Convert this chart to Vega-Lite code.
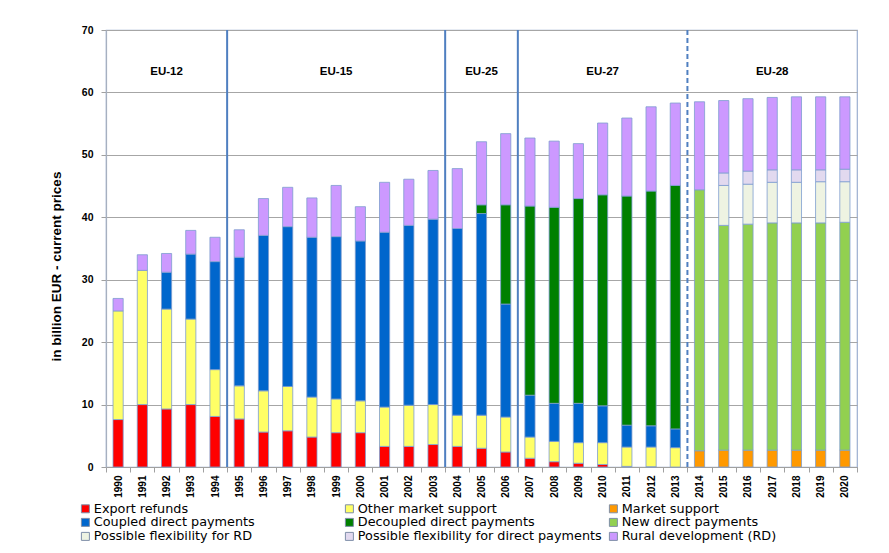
{
  "$schema": "https://vega.github.io/schema/vega-lite/v6.json",
  "autosize": "none",
  "width": 751,
  "height": 437,
  "padding": {"left": 106, "top": 30, "right": 32, "bottom": 86},
  "background": "white",
  "config": {
    "view": {"stroke": "#9CAFD0", "strokeWidth": 1.2},
    "font": "Liberation Sans"
  },
  "datasets": {
    "bars": [
      {"year": "1990", "cat": "Export refunds", "k": 1, "v": 7.6},
      {"year": "1990", "cat": "Other market support", "k": 2, "v": 17.4},
      {"year": "1990", "cat": "Rural development (RD)", "k": 9, "v": 2.0},
      {"year": "1991", "cat": "Export refunds", "k": 1, "v": 10.0},
      {"year": "1991", "cat": "Other market support", "k": 2, "v": 21.5},
      {"year": "1991", "cat": "Rural development (RD)", "k": 9, "v": 2.5},
      {"year": "1992", "cat": "Export refunds", "k": 1, "v": 9.3},
      {"year": "1992", "cat": "Other market support", "k": 2, "v": 16.0},
      {"year": "1992", "cat": "Coupled direct payments", "k": 4, "v": 5.9},
      {"year": "1992", "cat": "Rural development (RD)", "k": 9, "v": 3.0},
      {"year": "1993", "cat": "Export refunds", "k": 1, "v": 10.0},
      {"year": "1993", "cat": "Other market support", "k": 2, "v": 13.7},
      {"year": "1993", "cat": "Coupled direct payments", "k": 4, "v": 10.4},
      {"year": "1993", "cat": "Rural development (RD)", "k": 9, "v": 3.8},
      {"year": "1994", "cat": "Export refunds", "k": 1, "v": 8.1},
      {"year": "1994", "cat": "Other market support", "k": 2, "v": 7.5},
      {"year": "1994", "cat": "Coupled direct payments", "k": 4, "v": 17.3},
      {"year": "1994", "cat": "Rural development (RD)", "k": 9, "v": 3.9},
      {"year": "1995", "cat": "Export refunds", "k": 1, "v": 7.7},
      {"year": "1995", "cat": "Other market support", "k": 2, "v": 5.3},
      {"year": "1995", "cat": "Coupled direct payments", "k": 4, "v": 20.6},
      {"year": "1995", "cat": "Rural development (RD)", "k": 9, "v": 4.4},
      {"year": "1996", "cat": "Export refunds", "k": 1, "v": 5.6},
      {"year": "1996", "cat": "Other market support", "k": 2, "v": 6.6},
      {"year": "1996", "cat": "Coupled direct payments", "k": 4, "v": 24.9},
      {"year": "1996", "cat": "Rural development (RD)", "k": 9, "v": 5.9},
      {"year": "1997", "cat": "Export refunds", "k": 1, "v": 5.8},
      {"year": "1997", "cat": "Other market support", "k": 2, "v": 7.1},
      {"year": "1997", "cat": "Coupled direct payments", "k": 4, "v": 25.6},
      {"year": "1997", "cat": "Rural development (RD)", "k": 9, "v": 6.3},
      {"year": "1998", "cat": "Export refunds", "k": 1, "v": 4.8},
      {"year": "1998", "cat": "Other market support", "k": 2, "v": 6.4},
      {"year": "1998", "cat": "Coupled direct payments", "k": 4, "v": 25.6},
      {"year": "1998", "cat": "Rural development (RD)", "k": 9, "v": 6.3},
      {"year": "1999", "cat": "Export refunds", "k": 1, "v": 5.5},
      {"year": "1999", "cat": "Other market support", "k": 2, "v": 5.4},
      {"year": "1999", "cat": "Coupled direct payments", "k": 4, "v": 26.0},
      {"year": "1999", "cat": "Rural development (RD)", "k": 9, "v": 8.2},
      {"year": "2000", "cat": "Export refunds", "k": 1, "v": 5.5},
      {"year": "2000", "cat": "Other market support", "k": 2, "v": 5.1},
      {"year": "2000", "cat": "Coupled direct payments", "k": 4, "v": 25.6},
      {"year": "2000", "cat": "Rural development (RD)", "k": 9, "v": 5.5},
      {"year": "2001", "cat": "Export refunds", "k": 1, "v": 3.3},
      {"year": "2001", "cat": "Other market support", "k": 2, "v": 6.3},
      {"year": "2001", "cat": "Coupled direct payments", "k": 4, "v": 28.0},
      {"year": "2001", "cat": "Rural development (RD)", "k": 9, "v": 8.0},
      {"year": "2002", "cat": "Export refunds", "k": 1, "v": 3.3},
      {"year": "2002", "cat": "Other market support", "k": 2, "v": 6.6},
      {"year": "2002", "cat": "Coupled direct payments", "k": 4, "v": 28.8},
      {"year": "2002", "cat": "Rural development (RD)", "k": 9, "v": 7.4},
      {"year": "2003", "cat": "Export refunds", "k": 1, "v": 3.6},
      {"year": "2003", "cat": "Other market support", "k": 2, "v": 6.4},
      {"year": "2003", "cat": "Coupled direct payments", "k": 4, "v": 29.7},
      {"year": "2003", "cat": "Rural development (RD)", "k": 9, "v": 7.8},
      {"year": "2004", "cat": "Export refunds", "k": 1, "v": 3.3},
      {"year": "2004", "cat": "Other market support", "k": 2, "v": 5.0},
      {"year": "2004", "cat": "Coupled direct payments", "k": 4, "v": 29.9},
      {"year": "2004", "cat": "Rural development (RD)", "k": 9, "v": 9.6},
      {"year": "2005", "cat": "Export refunds", "k": 1, "v": 3.0},
      {"year": "2005", "cat": "Other market support", "k": 2, "v": 5.3},
      {"year": "2005", "cat": "Coupled direct payments", "k": 4, "v": 32.3},
      {"year": "2005", "cat": "Decoupled direct payments", "k": 5, "v": 1.4},
      {"year": "2005", "cat": "Rural development (RD)", "k": 9, "v": 10.1},
      {"year": "2006", "cat": "Export refunds", "k": 1, "v": 2.4},
      {"year": "2006", "cat": "Other market support", "k": 2, "v": 5.6},
      {"year": "2006", "cat": "Coupled direct payments", "k": 4, "v": 18.1},
      {"year": "2006", "cat": "Decoupled direct payments", "k": 5, "v": 15.9},
      {"year": "2006", "cat": "Rural development (RD)", "k": 9, "v": 11.4},
      {"year": "2007", "cat": "Export refunds", "k": 1, "v": 1.4},
      {"year": "2007", "cat": "Other market support", "k": 2, "v": 3.4},
      {"year": "2007", "cat": "Coupled direct payments", "k": 4, "v": 6.7},
      {"year": "2007", "cat": "Decoupled direct payments", "k": 5, "v": 30.3},
      {"year": "2007", "cat": "Rural development (RD)", "k": 9, "v": 10.9},
      {"year": "2008", "cat": "Export refunds", "k": 1, "v": 0.85},
      {"year": "2008", "cat": "Other market support", "k": 2, "v": 3.25},
      {"year": "2008", "cat": "Coupled direct payments", "k": 4, "v": 6.1},
      {"year": "2008", "cat": "Decoupled direct payments", "k": 5, "v": 31.4},
      {"year": "2008", "cat": "Rural development (RD)", "k": 9, "v": 10.6},
      {"year": "2009", "cat": "Export refunds", "k": 1, "v": 0.6},
      {"year": "2009", "cat": "Other market support", "k": 2, "v": 3.3},
      {"year": "2009", "cat": "Coupled direct payments", "k": 4, "v": 6.3},
      {"year": "2009", "cat": "Decoupled direct payments", "k": 5, "v": 32.8},
      {"year": "2009", "cat": "Rural development (RD)", "k": 9, "v": 8.8},
      {"year": "2010", "cat": "Export refunds", "k": 1, "v": 0.4},
      {"year": "2010", "cat": "Other market support", "k": 2, "v": 3.5},
      {"year": "2010", "cat": "Coupled direct payments", "k": 4, "v": 5.9},
      {"year": "2010", "cat": "Decoupled direct payments", "k": 5, "v": 33.8},
      {"year": "2010", "cat": "Rural development (RD)", "k": 9, "v": 11.5},
      {"year": "2011", "cat": "Export refunds", "k": 1, "v": 0.1},
      {"year": "2011", "cat": "Other market support", "k": 2, "v": 3.1},
      {"year": "2011", "cat": "Coupled direct payments", "k": 4, "v": 3.5},
      {"year": "2011", "cat": "Decoupled direct payments", "k": 5, "v": 36.7},
      {"year": "2011", "cat": "Rural development (RD)", "k": 9, "v": 12.5},
      {"year": "2012", "cat": "Export refunds", "k": 1, "v": 0.05},
      {"year": "2012", "cat": "Other market support", "k": 2, "v": 3.15},
      {"year": "2012", "cat": "Coupled direct payments", "k": 4, "v": 3.4},
      {"year": "2012", "cat": "Decoupled direct payments", "k": 5, "v": 37.6},
      {"year": "2012", "cat": "Rural development (RD)", "k": 9, "v": 13.5},
      {"year": "2013", "cat": "Other market support", "k": 2, "v": 3.1},
      {"year": "2013", "cat": "Coupled direct payments", "k": 4, "v": 3.0},
      {"year": "2013", "cat": "Decoupled direct payments", "k": 5, "v": 39.0},
      {"year": "2013", "cat": "Rural development (RD)", "k": 9, "v": 13.2},
      {"year": "2014", "cat": "Market support", "k": 3, "v": 2.6},
      {"year": "2014", "cat": "New direct payments", "k": 6, "v": 41.8},
      {"year": "2014", "cat": "Rural development (RD)", "k": 9, "v": 14.1},
      {"year": "2015", "cat": "Market support", "k": 3, "v": 2.7},
      {"year": "2015", "cat": "New direct payments", "k": 6, "v": 36.0},
      {"year": "2015", "cat": "Possible flexibility for RD", "k": 7, "v": 6.4},
      {"year": "2015", "cat": "Possible flexibility for direct payments", "k": 8, "v": 2.0},
      {"year": "2015", "cat": "Rural development (RD)", "k": 9, "v": 11.6},
      {"year": "2016", "cat": "Market support", "k": 3, "v": 2.7},
      {"year": "2016", "cat": "New direct payments", "k": 6, "v": 36.2},
      {"year": "2016", "cat": "Possible flexibility for RD", "k": 7, "v": 6.4},
      {"year": "2016", "cat": "Possible flexibility for direct payments", "k": 8, "v": 2.1},
      {"year": "2016", "cat": "Rural development (RD)", "k": 9, "v": 11.6},
      {"year": "2017", "cat": "Market support", "k": 3, "v": 2.7},
      {"year": "2017", "cat": "New direct payments", "k": 6, "v": 36.4},
      {"year": "2017", "cat": "Possible flexibility for RD", "k": 7, "v": 6.5},
      {"year": "2017", "cat": "Possible flexibility for direct payments", "k": 8, "v": 2.0},
      {"year": "2017", "cat": "Rural development (RD)", "k": 9, "v": 11.6},
      {"year": "2018", "cat": "Market support", "k": 3, "v": 2.7},
      {"year": "2018", "cat": "New direct payments", "k": 6, "v": 36.4},
      {"year": "2018", "cat": "Possible flexibility for RD", "k": 7, "v": 6.5},
      {"year": "2018", "cat": "Possible flexibility for direct payments", "k": 8, "v": 2.0},
      {"year": "2018", "cat": "Rural development (RD)", "k": 9, "v": 11.7},
      {"year": "2019", "cat": "Market support", "k": 3, "v": 2.7},
      {"year": "2019", "cat": "New direct payments", "k": 6, "v": 36.4},
      {"year": "2019", "cat": "Possible flexibility for RD", "k": 7, "v": 6.6},
      {"year": "2019", "cat": "Possible flexibility for direct payments", "k": 8, "v": 1.9},
      {"year": "2019", "cat": "Rural development (RD)", "k": 9, "v": 11.7},
      {"year": "2020", "cat": "Market support", "k": 3, "v": 2.7},
      {"year": "2020", "cat": "New direct payments", "k": 6, "v": 36.5},
      {"year": "2020", "cat": "Possible flexibility for RD", "k": 7, "v": 6.5},
      {"year": "2020", "cat": "Possible flexibility for direct payments", "k": 8, "v": 2.0},
      {"year": "2020", "cat": "Rural development (RD)", "k": 9, "v": 11.6}
    ]
  },
  "layer": [
    {
      "data": {"name": "bars"},
      "mark": {"type": "bar", "width": {"band": 0.42}, "stroke": "#7D9DCF", "strokeWidth": 0.8},
      "encoding": {
        "x": {
          "field": "year", "type": "ordinal",
          "scale": {"paddingInner": 0, "paddingOuter": 0},
          "axis": {
            "title": null, "labelAngle": -90, "labelFont": "Liberation Sans", "labelFontWeight": "bold",
            "labelFontSize": 10, "labelColor": "#000000", "labelPadding": 3,
            "tickBand": "extent", "tickSize": 5, "tickColor": "#A0A0A0",
            "domainColor": "#A0A0A0", "domainWidth": 1.2
          }
        },
        "y": {
          "field": "v", "type": "quantitative", "stack": "zero",
          "scale": {"domain": [0, 70], "nice": false},
          "axis": {
            "title": "in billion EUR - current prices", "titleFont": "Liberation Sans", "titleFontSize": 13.5,
            "titleFontWeight": "bold", "titleColor": "#000000", "titlePadding": 18, "titleY": 236,
            "values": [0, 10, 20, 30, 40, 50, 60, 70],
            "labelFont": "Liberation Sans", "labelFontWeight": "bold", "labelFontSize": 10.5, "labelColor": "#000000",
            "labelPadding": 8, "tickSize": 5, "tickColor": "#A0A0A0",
            "grid": true, "gridColor": "#A6A6A6", "gridWidth": 1.2,
            "domainColor": "#A6B0C0", "domainWidth": 1.2
          }
        },
        "color": {
          "field": "cat", "type": "nominal",
          "scale": {
            "domain": ["Export refunds", "Other market support", "Market support", "Coupled direct payments", "Decoupled direct payments", "New direct payments", "Possible flexibility for RD", "Possible flexibility for direct payments", "Rural development (RD)"],
            "range": ["#FF0000", "#FFFF66", "#FF9900", "#0066CC", "#008000", "#92D050", "#EEF3E2", "#E2D9EF", "#CC99FF"]
          },
          "legend": {
            "title": null, "orient": "none", "legendX": -27, "legendY": 472, "direction": "horizontal",
            "columns": 3, "gridAlign": "all", "columnPadding": 5, "rowPadding": 0,
            "symbolType": "square", "symbolSize": 64, "symbolStrokeColor": "#7F8FA8", "symbolStrokeWidth": 1,
            "labelFont": "DejaVu Sans", "labelFontSize": 12.8, "labelColor": "#000000", "labelOffset": 2,
            "labelLimit": 400
          }
        },
        "order": {"field": "k", "type": "quantitative"}
      }
    },
    {
      "data": {"values": [{"year": "1995"}, {"year": "2004"}, {"year": "2007"}]},
      "mark": {"type": "rule", "color": "#4F7FC0", "strokeWidth": 2},
      "encoding": {"x": {"field": "year", "type": "ordinal", "bandPosition": 0}}
    },
    {
      "data": {"values": [{"year": "2014"}]},
      "mark": {"type": "rule", "color": "#4F7FC0", "strokeWidth": 2, "strokeDash": [5, 3]},
      "encoding": {"x": {"field": "year", "type": "ordinal", "bandPosition": 0}}
    },
    {
      "data": {"values": [
        {"year": "1992", "label": "EU-12", "pos": 63.2},
        {"year": "1999", "label": "EU-15", "pos": 63.2},
        {"year": "2005", "label": "EU-25", "pos": 63.2},
        {"year": "2010", "label": "EU-27", "pos": 63.2},
        {"year": "2017", "label": "EU-28", "pos": 63.2}
      ]},
      "mark": {"type": "text", "font": "Liberation Sans", "fontWeight": "bold", "fontSize": 11.5, "color": "#000000", "baseline": "middle"},
      "encoding": {
        "x": {"field": "year", "type": "ordinal"},
        "y": {"field": "pos", "type": "quantitative"},
        "text": {"field": "label"}
      }
    }
  ]
}
